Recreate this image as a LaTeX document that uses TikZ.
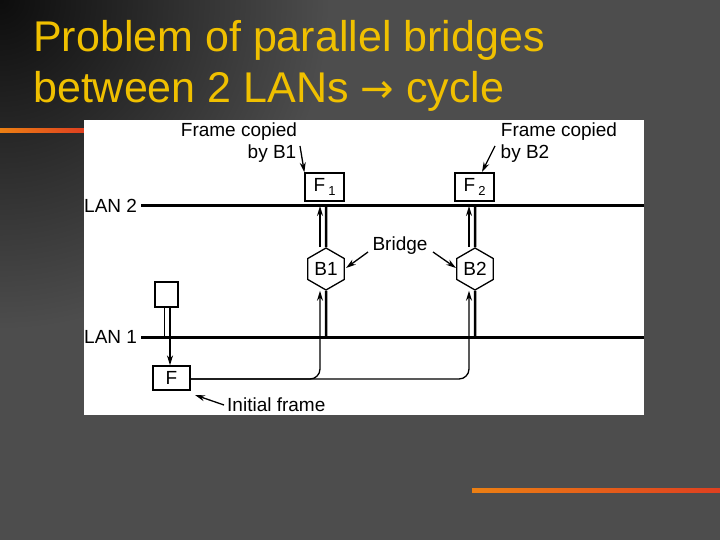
\documentclass[tikz,border=0pt]{standalone}
\usepackage{fontspec}
\setmainfont{Liberation Sans}
\newfontfamily\djv{DejaVu Sans}
\usetikzlibrary{shapes.geometric,arrows.meta}
\definecolor{bg}{RGB}{77,77,77}
\definecolor{ttl}{RGB}{240,192,0}
\begin{document}
\begin{tikzpicture}[x=1pt,y=-1pt,
  lbl/.style={font=\fontsize{19}{20}\selectfont,inner sep=0pt},
  box/.style={draw,line width=1.3pt,fill=white,inner sep=0pt,font=\fontsize{19}{20}\selectfont},
  hexa/.style={draw,line width=1.3pt,regular polygon,regular polygon sides=6,shape border rotate=30,minimum size=42pt,inner sep=0pt,fill=white,font=\fontsize{19}{20}\selectfont},
  lan/.style={line width=3pt},
  tip/.style={-{Stealth[length=10pt,width=6pt]}},
  ptr/.style={line width=1.3pt,-{Stealth[length=10pt,width=6pt]}}]
\useasboundingbox (0,0) rectangle (720,540);
\fill[bg] (0,0) rectangle (720,540);
\begin{scope}
\clip (0,0) rectangle (720,540);
\shade[inner color=black!95,outer color=bg] (0,0) circle (330);
\end{scope}
% strips
\shade[left color=orange!70!brown,right color=red!50!brown] (0,129) rectangle (84,133);
\shade[left color=orange!70!brown,right color=red!50!brown] (472,488) rectangle (720,492);
% title
\node[anchor=base west,text=ttl,font=\fontsize{43}{46}\selectfont,inner sep=0pt] (t1) at (33,52) {Problem of parallel bridges};
\node[anchor=base west,text=ttl,font=\fontsize{43}{46}\selectfont,inner sep=0pt] (t2) at (33,103) {between 2 LANs {\djv\fontsize{40}{44}\selectfont →} cycle};
% panel
\fill[white] (84,120) rectangle (644,415);
% LANs
\node[lbl,anchor=west] (l2) at (84,206) {LAN 2};
\node[lbl,anchor=west] (l1) at (84,337) {LAN 1};
\coordinate (l2a) at (141,206); \coordinate (l2b) at (644,206);
\coordinate (l1a) at (141,337); \coordinate (l1b) at (644,337);
\draw[lan] (l2a) -- (l2b);
\draw[lan] (l1a) -- (l1b);
% bridges
\node[hexa] (b1) at (326,269) {B1};
\node[hexa] (b2) at (475,269) {B2};
\coordinate (b1t) at (326,206); \coordinate (b1b) at (326,337);
\coordinate (b2t) at (475,206); \coordinate (b2b) at (475,337);
\draw[line width=2.5pt] (b1t) -- (b1.north);
\draw[line width=2.5pt] (b1.south) -- (b1b);
\draw[line width=2.5pt] (b2t) -- (b2.north);
\draw[line width=2.5pt] (b2.south) -- (b2b);
% frames
\node[box,minimum width=39pt,minimum height=28pt] (f1) at (324.5,187) {F\,\raisebox{-4pt}{\fontsize{13}{14}\selectfont 1}};
\node[box,minimum width=39pt,minimum height=28pt] (f2) at (474.5,187) {F\,\raisebox{-4pt}{\fontsize{13}{14}\selectfont 2}};
\node[box,minimum width=37pt,minimum height=24pt] (f) at (171.5,378) {F};
\node[box,minimum width=23pt,minimum height=25pt] (st) at (166.5,294.5) {};
% station
\coordinate (s1) at (164.5,337); \coordinate (s2) at (170,337);
\draw[line width=1.3pt] (st.south -| s1) -- (s1);
\draw[line width=1.3pt] (st.south -| s2) -- (s2);
\draw[line width=1.3pt,tip] (s2) -- (f.north -| s2);
% paths from F
\coordinate (c1) at (320,379); \coordinate (c2) at (469,379);
\draw[line width=1.3pt,tip,rounded corners=10pt] (f.east |- c1) -- (c1) -- (c1 |- b1.south);
\draw[line width=1.3pt,tip,rounded corners=10pt] (f.east |- c2) -- (c2) -- (c2 |- b2.south);
\coordinate (u1) at (320,262); \coordinate (u2) at (469,262);
\draw[line width=1.3pt,tip] (u1 |- b1.north) -- (u1 |- l2a);
\draw[line width=1.3pt,tip] (u2 |- b2.north) -- (u2 |- l2a);
% labels
\node[lbl] (fc1) at (239,132) {Frame copied};
\node[lbl] (by1) at (272,154) {by B1};
\node[lbl] (fc2) at (559,132) {Frame copied};
\node[lbl] (by2) at (525,154) {by B2};
\draw[ptr] (300,146) -- (f1.north west);
\draw[ptr] (495,146) -- (482,172);
\node[lbl] (br) at (400,246) {Bridge};
\draw[ptr] (368,252) -- (346,268);
\draw[ptr] (433,252) -- (456,268);
\node[lbl,anchor=west] (ini) at (227,405) {Initial frame};
\draw[ptr] ([xshift=-3pt]ini.west) -- (195,395);
\end{tikzpicture}
\end{document}
